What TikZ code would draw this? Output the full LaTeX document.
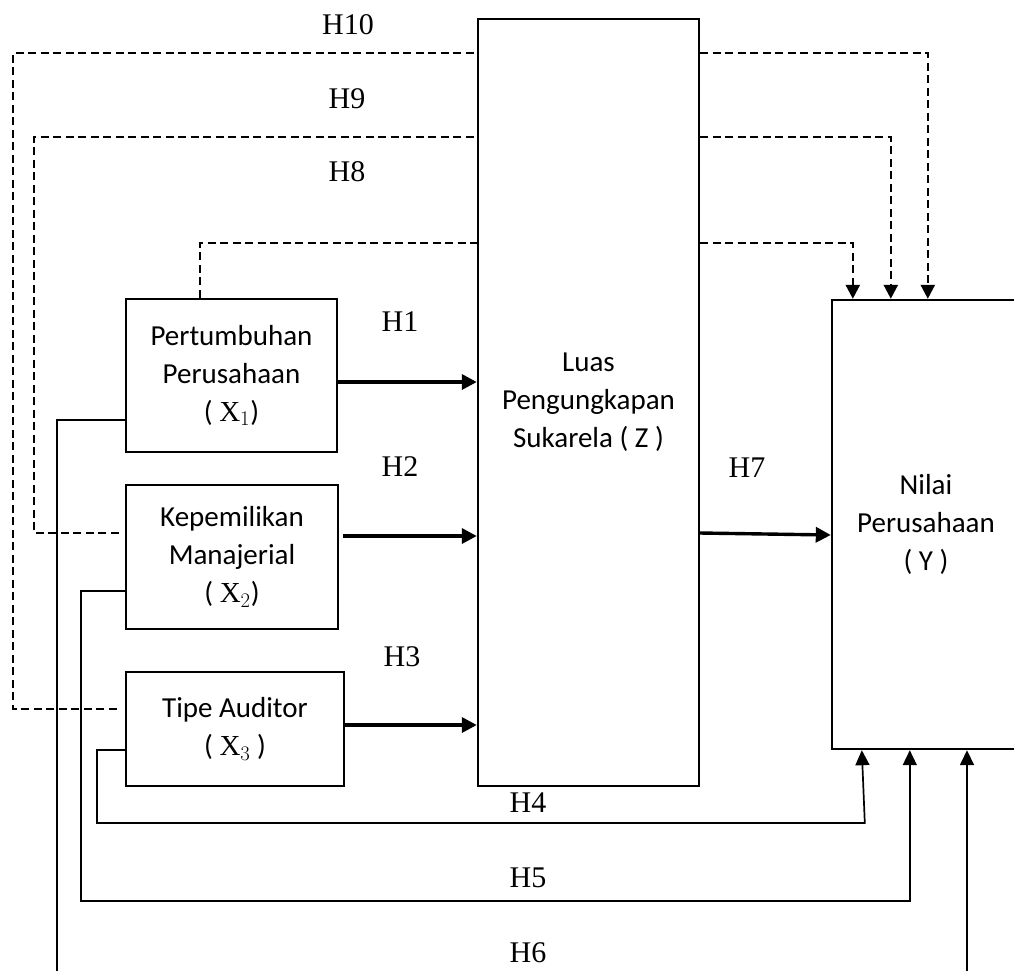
\documentclass[tikz,border=0pt]{standalone}
\usepackage{fontspec}
\setmainfont{Liberation Serif}
\newfontfamily\boxfont{Carlito}
\usetikzlibrary{arrows.meta}
\begin{document}
\begin{tikzpicture}[x=1pt,y=-1pt,
 box/.style={draw,line width=2.4pt,inner sep=0pt,align=center,font=\boxfont\fontsize{29}{38}\selectfont},
 hlab/.style={font=\fontsize{30}{36}\selectfont,inner sep=0pt},
 mainarr/.style={line width=3.4pt,-{Triangle[length=15pt,width=15pt]}},
 med/.style={dash pattern=on 8pt off 4.5pt,line width=2.4pt},
 medarr/.style={med,-{Triangle[length=14pt,width=14pt]}},
 thinline/.style={line width=1.7pt},
 thinarr/.style={thinline,-{Triangle[length=15pt,width=14pt]}}]

\useasboundingbox (0,0) rectangle (1014,970);

% boxes
\node[box,minimum width=221pt,minimum height=767pt] (z) at (588.5,402.5)
  {Luas\\Pengungkapan\\Sukarela ( Z )};
\node[box,minimum width=188pt,minimum height=449pt] (y) at (926,524.5)
  {Nilai\\Perusahaan\\( Y )};
\node[box,minimum width=211pt,minimum height=153pt] (x1) at (231.5,375.5)
  {Pertumbuhan\\Perusahaan\\( $\mathrm{X}_1$)};
\node[box,minimum width=212pt,minimum height=144pt] (x2) at (232,557)
  {Kepemilikan\\Manajerial\\( $\mathrm{X}_2$)};
\node[box,minimum width=218pt,minimum height=114pt] (x3) at (235,729)
  {Tipe Auditor\\( $\mathrm{X}_3$ )};

% helper coordinates
\coordinate (c1) at (0,382);
\coordinate (c2) at (0,536);
\coordinate (c3) at (0,725);
\coordinate (c7) at (0,533);
\coordinate (c7b) at (0,535);
\coordinate (c8) at (200,243);
\coordinate (c9) at (34,137);
\coordinate (c10) at (13,53);
\coordinate (c4) at (97,823);
\coordinate (c5) at (81,901);
\coordinate (c6) at (57,975);
\coordinate (c6b) at (967,975);

% direct effects
\draw[mainarr] (x1.east |- c1) -- (z.west |- c1);
\draw[mainarr,shorten <=4pt] (x2.east |- c2) -- (z.west |- c2);
\draw[mainarr] (x3.east |- c3) -- (z.west |- c3);
\draw[mainarr] (z.east |- c7) -- (y.west |- c7b);

% mediated (dashed)
\draw[med] (x1.north -| c8) |- (z.west |- c8);
\draw[medarr] (z.east |- c8) -| ([xshift=22pt]y.north west);
\draw[med] ([xshift=-6pt,yshift=24pt]x2.west) -| (c9) -- (z.west |- c9);
\draw[medarr] (z.east |- c9) -| ([xshift=60pt]y.north west);
\draw[med] ([xshift=-8pt,yshift=20pt]x3.west) -| (c10) -- (z.west |- c10);
\draw[medarr] (z.east |- c10) -| ([xshift=97pt]y.north west);

% direct to Y (thin)
\draw[thinarr] ([yshift=-21pt]x3.west) -| (c4) -- ([xshift=34pt]y.south west |- c4) -- ([xshift=31pt]y.south west);
\draw[thinarr] ([yshift=-34pt]x2.west) -| (c5) -| ([xshift=79pt]y.south west);
\draw[thinline] ([yshift=-44.5pt]x1.west) -| (c6);
\draw[thinarr] (c6b) -- (c6b |- y.south);

% labels
\node[hlab] (l10) at (348,25) {H10};
\node[hlab] (l9) at (347,99) {H9};
\node[hlab] (l8) at (347,172) {H8};
\node[hlab] (l1) at (400,322) {H1};
\node[hlab] (l2) at (400,467) {H2};
\node[hlab] (l3) at (402,657) {H3};
\node[hlab] (l7) at (747,468) {H7};
\node[hlab] (l4) at (528,803) {H4};
\node[hlab] (l5) at (528,878) {H5};
\node[hlab] (l6) at (528,953) {H6};
\end{tikzpicture}
\end{document}
